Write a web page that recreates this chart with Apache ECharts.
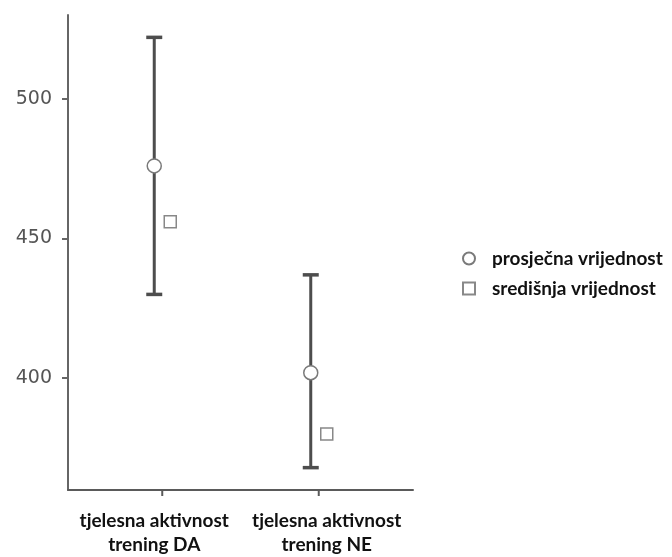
<!DOCTYPE html>
<html>
<head>
<meta charset="utf-8">
<script src="https://cdn.jsdelivr.net/npm/echarts@6/dist/echarts.min.js"></script>
<style>
html,body{margin:0;padding:0;background:#fff;}
#chart{width:672px;height:557px;}
</style>
</head>
<body>
<div id="chart"></div>
<script>
var categories = ['tjelesna aktivnost\ntrening DA', 'tjelesna aktivnost\ntrening NE'];
var meanValues = [476, 402];
var medianValues = [456, 380];
var upperValues = [522, 437];
var lowerValues = [430, 368];
var yTickValues = [400, 450, 500];
var seriesNames = ['prosječna vrijednost', 'središnja vrijednost'];

// pixel offsets (style) of marks from category centre
var barShift = [0, -16];
var medianShift = [16, 0];
var xTickShift = [8, -8];

var chart = echarts.init(document.getElementById('chart'));

var errorData = categories.map(function (c, i) { return [i, upperValues[i], lowerValues[i]]; });
var meanData = meanValues.map(function (v, i) { return { value: [i, v], symbolOffset: [barShift[i], 0] }; });
var medianData = medianValues.map(function (v, i) { return { value: [i, v], symbolOffset: [medianShift[i], 0] }; });
var xTickData = categories.map(function (c, i) { return [i, 360]; });

var barColor = '#4d4d4d';
var axisColor = '#5a5a5a';

chart.setOption({
  animation: false,
  backgroundColor: '#ffffff',
  grid: { left: 68, right: 259, top: 15, bottom: 66 },
  legend: {
    orient: 'vertical', left: 457, top: 244, itemWidth: 12, itemHeight: 12, itemGap: 11,
    data: seriesNames,
    textStyle: { fontFamily: 'Lato', fontWeight: 'bold', fontSize: 19, color: '#111', padding: [0, 0, 0, 12] }
  },
  xAxis: {
    type: 'category', data: categories, boundaryGap: true,
    axisLine: { lineStyle: { color: axisColor, width: 2 } },
    axisTick: { show: false },
    axisLabel: { interval: 0, margin: 19, fontFamily: 'Lato', fontWeight: 'bold', fontSize: 19, lineHeight: 24, color: '#111' },
    splitLine: { show: false }
  },
  yAxis: {
    type: 'value', min: 360, max: 530, interval: 10,
    axisLine: { show: true, lineStyle: { color: '#666', width: 2 } },
    axisTick: { show: true, length: 6, customValues: yTickValues, lineStyle: { color: '#666', width: 2 } },
    axisLabel: { customValues: yTickValues, margin: 16, fontFamily: 'DejaVu Sans', fontSize: 19, color: '#555' },
    splitLine: { show: false }
  },
  series: [
    {
      type: 'custom', name: 'xticks', data: xTickData, silent: true, clip: false, z: 1,
      renderItem: function (params, api) {
        var i = api.value(0);
        var p = api.coord([i, api.value(1)]);
        var x = p[0] + xTickShift[i];
        var y0 = params.coordSys.y + params.coordSys.height;
        return { type: 'line', shape: { x1: x, y1: y0, x2: x, y2: y0 + 6 }, style: { stroke: axisColor, lineWidth: 2 } };
      }
    },
    {
      type: 'custom', name: 'errorbars', data: errorData, z: 1, silent: true,
      renderItem: function (params, api) {
        var i = api.value(0);
        var hi = api.coord([i, api.value(1)]);
        var lo = api.coord([i, api.value(2)]);
        var x = hi[0] + barShift[i];
        var cap = 8;
        return {
          type: 'group',
          children: [
            { type: 'line', shape: { x1: x, y1: hi[1], x2: x, y2: lo[1] }, style: { stroke: barColor, lineWidth: 3 } },
            { type: 'line', shape: { x1: x - cap, y1: hi[1], x2: x + cap, y2: hi[1] }, style: { stroke: barColor, lineWidth: 3.5 } },
            { type: 'line', shape: { x1: x - cap, y1: lo[1], x2: x + cap, y2: lo[1] }, style: { stroke: barColor, lineWidth: 3.5 } }
          ]
        };
      }
    },
    {
      type: 'scatter', name: seriesNames[0], data: meanData, symbol: 'circle', symbolSize: 14, z: 3,
      itemStyle: { color: '#ffffff', borderColor: '#7a7a7a', borderWidth: 1.5, opacity: 1 }
    },
    {
      type: 'scatter', name: seriesNames[1], data: medianData, symbol: 'rect', symbolSize: 12, z: 3,
      itemStyle: { color: '#ffffff', borderColor: '#888888', borderWidth: 1.5, opacity: 1 }
    }
  ]
});
</script>
</body>
</html>
